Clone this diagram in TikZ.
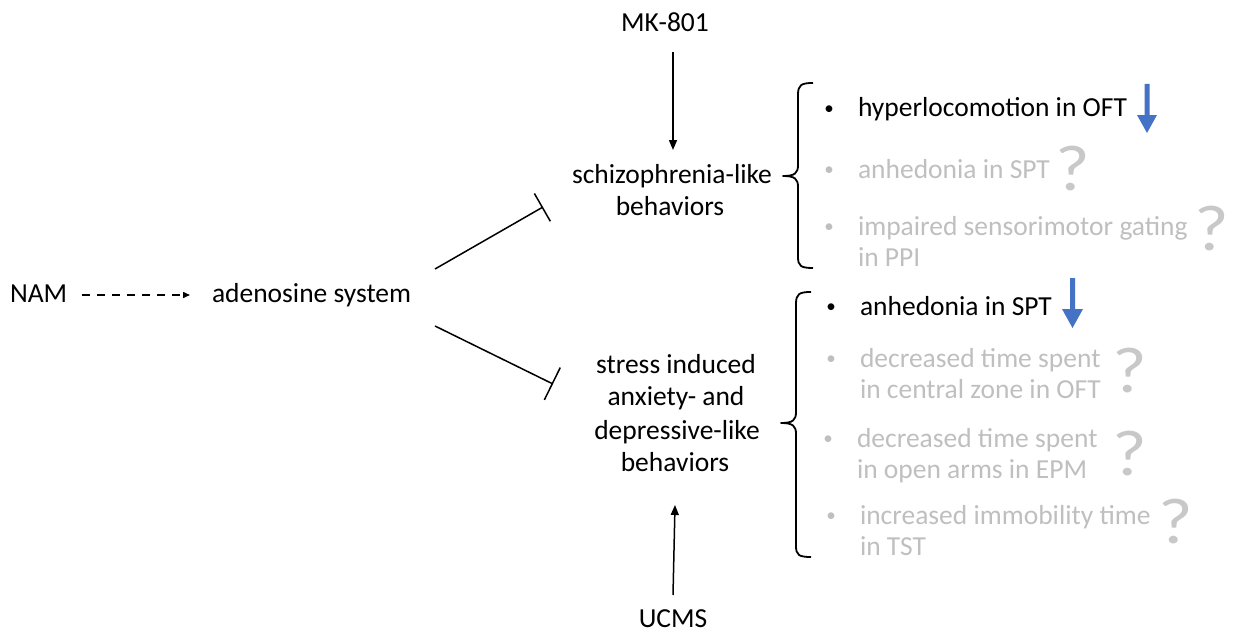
\documentclass[tikz,border=0pt]{standalone}
\usepackage{fontspec}
\setmainfont{Carlito}
\usetikzlibrary{arrows.meta}
\definecolor{lgray}{RGB}{191,191,191}
\definecolor{qgray}{RGB}{200,200,200}
\definecolor{arrblue}{RGB}{68,114,196}
\newcommand{\qm}{\scalebox{1.15}[1]{?}}
\begin{document}
\begin{tikzpicture}[x=1pt,y=-1pt,
  every node/.style={inner sep=0pt,outer sep=0pt,font=\fontsize{27.5}{31}\selectfont},
  lbl/.style={anchor=base},
  item/.style={anchor=base west},
  grey/.style={text=lgray},
  bul/.style={anchor=base,font=\fontsize{19}{19}\selectfont},
  qmark/.style={anchor=base,text=qgray,font=\fontsize{65}{65}\selectfont},
  conn/.style={line width=1.5pt},
  arr/.style={-{Triangle[length=10pt,width=8pt]}},
  brace/.style={line width=1.8pt,line join=round},
  bluearrow/.style={fill=arrblue,draw=none}]
\useasboundingbox (0,0) rectangle (1235,634);

% left / centre texts
\node[lbl] (mk) at (665,32) {MK-801};
\node[lbl] (sch1) at (672,183) {schizophrenia-like};
\node[lbl] (sch2) at (670,215) {behaviors};
\node[item] (nam) at (10,302) {NAM};
\node[item] (ade) at (212,302) {adenosine system};
\node[lbl] (st1) at (676,373) {stress induced};
\node[lbl] (st2) at (676,405) {anxiety- and};
\node[lbl] (st3) at (677,439) {depressive-like};
\node[lbl] (st4) at (675,471) {behaviors};
\node[lbl,text depth=0pt] (ucms) at (673,627) {UCMS};

% connector end points
\coordinate (mkS) at (673,52);
\coordinate (schN) at (673,150);
\coordinate (namE) at (82,295);
\coordinate (adeW) at (190,295);
\coordinate (adeNE) at (435,269);
\coordinate (schW) at (543,207);
\coordinate (adeSE) at (435,326);
\coordinate (stW) at (553,384);
\coordinate (ucN) at (673,595);
\coordinate (stS) at (675,505);

\draw[conn,arr] (mkS) -- (schN);
\draw[conn,dashed,dash pattern=on 8pt off 7pt,-{Triangle[length=7pt,width=6pt]}] (namE) -- (adeW);
\draw[conn,-{Bar[width=32pt,line width=1.5pt]}] (adeNE) -- (schW);
\draw[conn,-{Bar[width=36pt,line width=1.5pt]}] (adeSE) -- (stW);
\draw[conn,arr] (ucN) -- (stS);

% braces
\draw[brace] (813,83) .. controls (801,83) and (798,85) .. (798,95) -- (798,165)
  .. controls (798,173) and (795,176) .. (783,176)
  .. controls (795,176) and (798,179) .. (798,187) -- (798,257)
  .. controls (798,266) and (801,268) .. (813,268);
\draw[brace] (811,292) .. controls (799,292) and (796,294) .. (796,304) -- (796,412)
  .. controls (796,420) and (793,423) .. (781,423)
  .. controls (793,423) and (796,426) .. (796,434) -- (796,546)
  .. controls (796,555) and (799,557) .. (811,557);

% group 1
\node[bul] (b1) at (829,114) {•};
\node[item] (i1) at (858,117) {hyperlocomotion in OFT};
\node[bul,grey] (b2) at (829,175) {•};
\node[item,grey] (i2) at (858,178) {anhedonia in SPT};
\node[bul,grey] (b3) at (829,232) {•};
\node[item,grey] (i3a) at (858,235) {impaired sensorimotor gating};
\node[item,grey] (i3b) at (858,266) {in PPI};
\node[qmark] (q1) at (1073,190) {\qm};
\node[qmark] (q2) at (1212,250) {\qm};
\fill[bluearrow] (1144.5,84) -- (1149.5,84) -- (1149.5,115) -- (1157,115) -- (1147,133) -- (1137,115) -- (1144.5,115) -- cycle;

% group 2
\node[bul] (c1) at (831,312) {•};
\node[item] (j1) at (860,315) {anhedonia in SPT};
\node[bul,grey] (c2) at (831,364) {•};
\node[item,grey] (j2a) at (860,367) {decreased time spent};
\node[item,grey] (j2b) at (860,398) {in central zone in OFT};
\node[bul,grey] (c3) at (828,444) {•};
\node[item,grey] (j3a) at (857,447) {decreased time spent};
\node[item,grey] (j3b) at (857,478) {in open arms in EPM};
\node[bul,grey] (c4) at (831,521) {•};
\node[item,grey] (j4a) at (860,524) {increased immobility time};
\node[item,grey] (j4b) at (860,555) {in TST};
\node[qmark] (q3) at (1130,392) {\qm};
\node[qmark] (q4) at (1130,475) {\qm};
\node[qmark] (q5) at (1176,543) {\qm};
\fill[bluearrow] (1070,278) -- (1075,278) -- (1075,309) -- (1083,309) -- (1072.5,328) -- (1062,309) -- (1070,309) -- cycle;
\end{tikzpicture}
\end{document}
